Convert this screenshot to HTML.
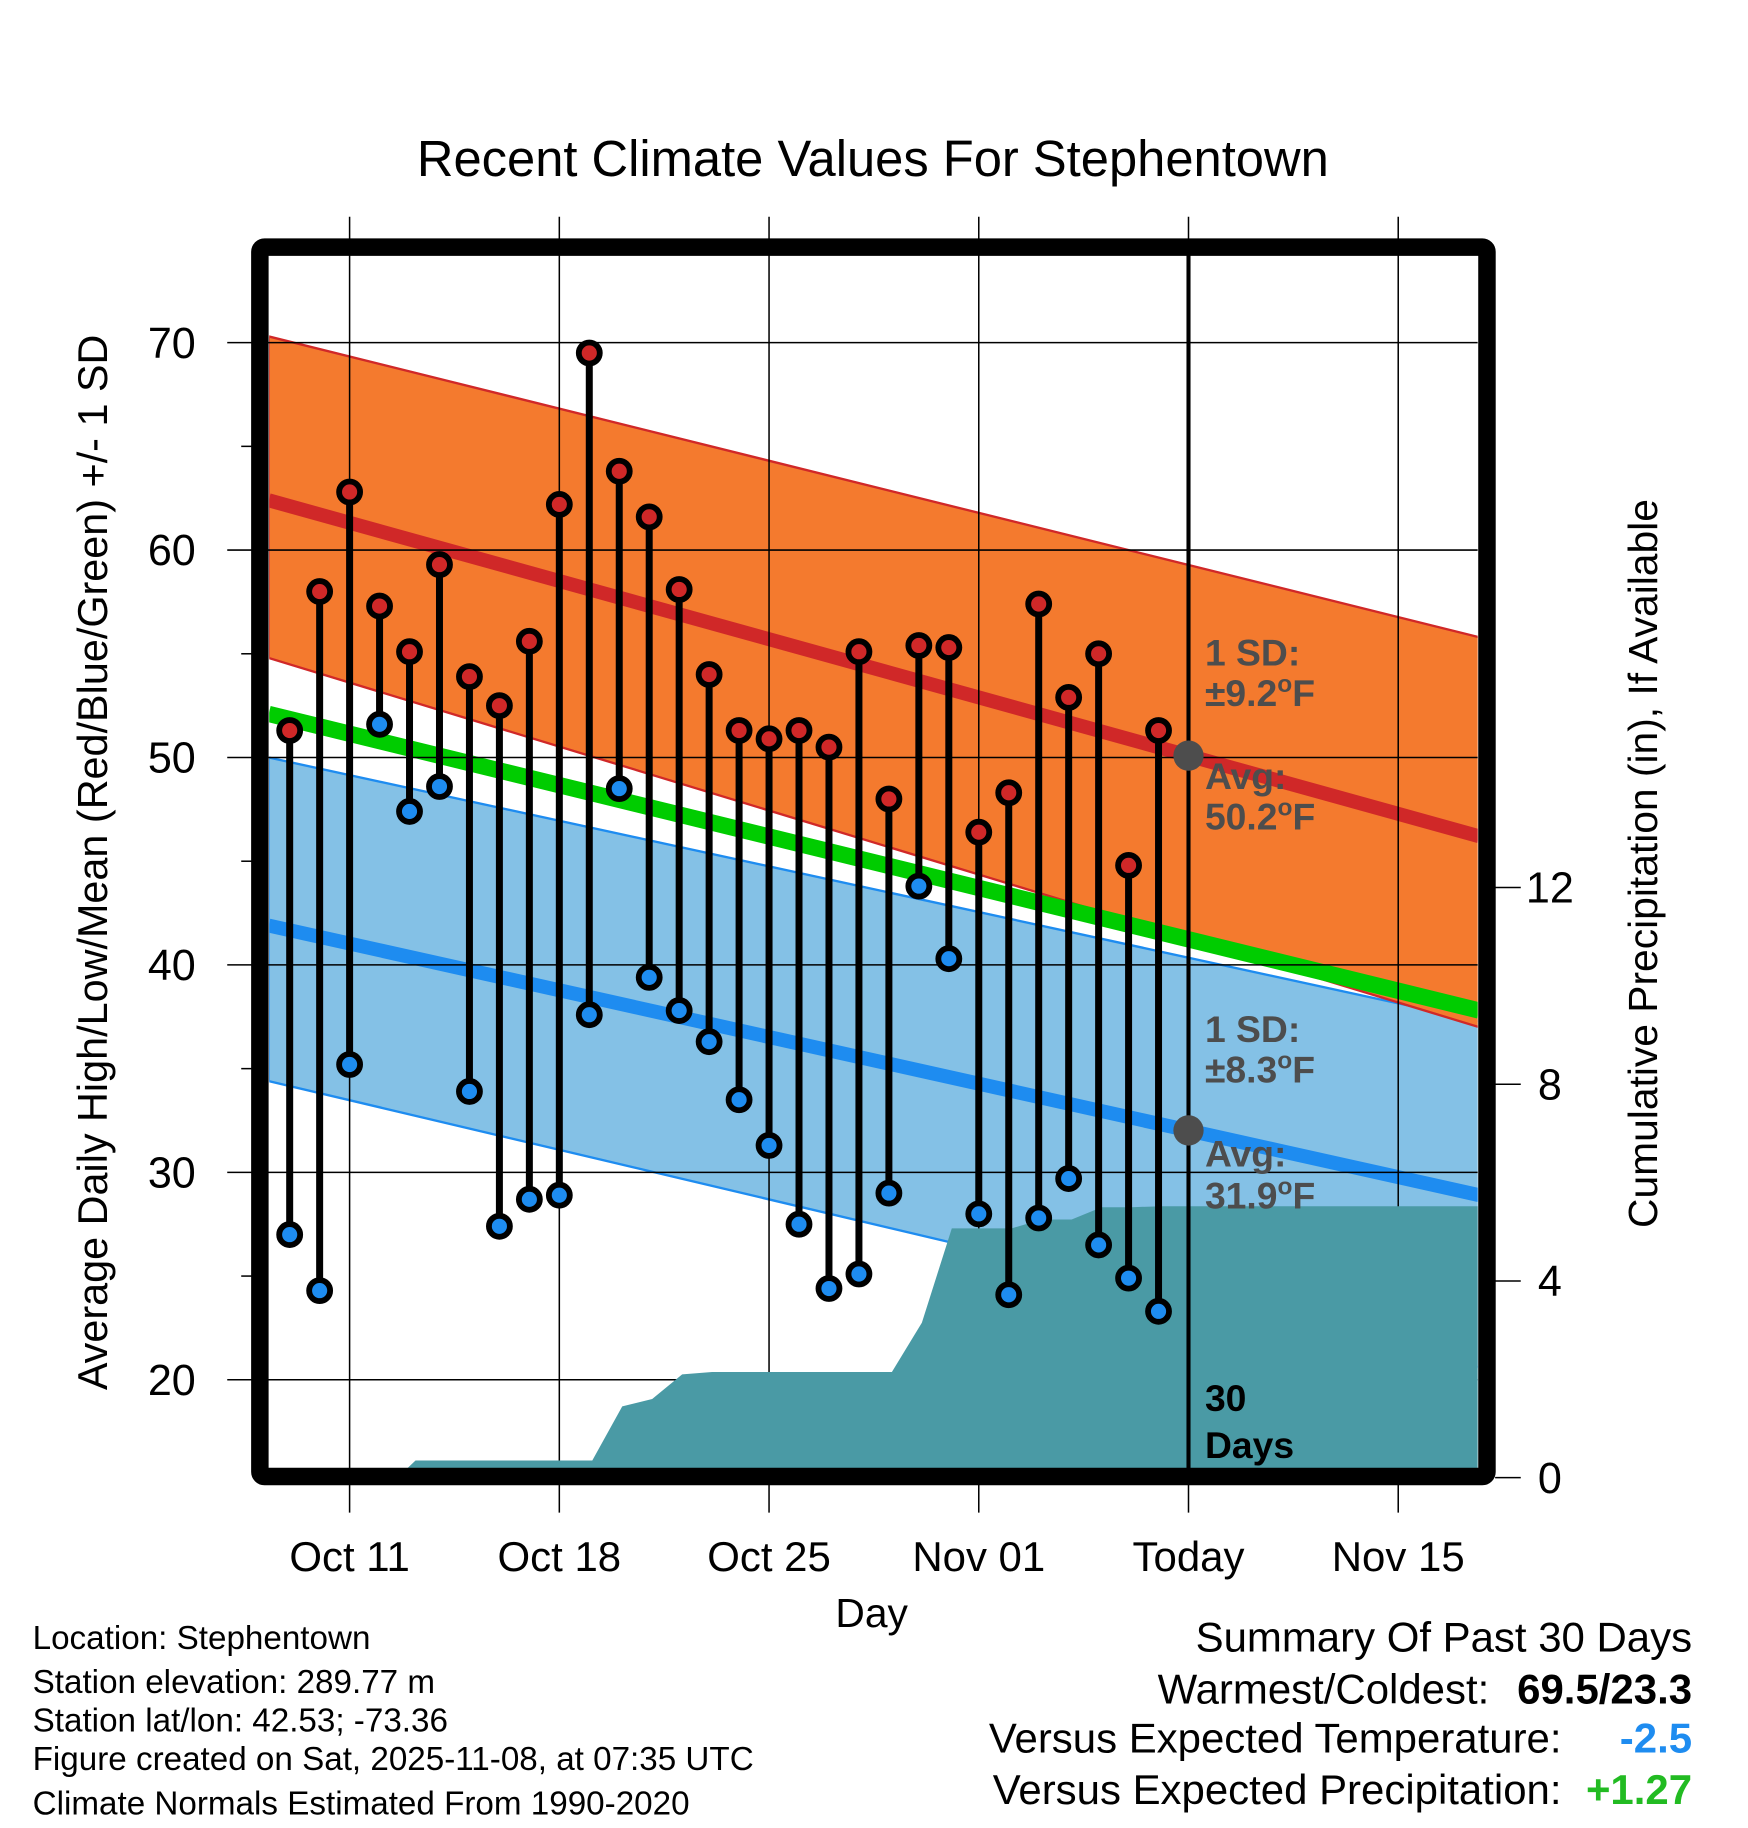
<!DOCTYPE html>
<html><head><meta charset="utf-8"><style>
html,body{margin:0;padding:0;background:#fff}
svg{display:block}
text{font-family:"Liberation Sans",sans-serif}
</style></head><body>
<svg id="chart" width="1748" height="1828" viewBox="0 0 1500 1568.6" xmlns="http://www.w3.org/2000/svg">
<defs><clipPath id="pc"><rect x="231" y="219" width="1037" height="1041"/></clipPath></defs>
<text x="749" y="151" font-size="43.5" text-anchor="middle">Recent Climate Values For Stephentown</text>
<g id="bands" clip-path="url(#pc)"></g>
<g id="grid"></g>
<g id="precip" clip-path="url(#pc)"></g>
<g id="marks"></g>
<g id="labels"></g>
<rect x="223" y="212" width="1053" height="1055" fill="none" stroke="#000" stroke-width="15" rx="4"/>
<text transform="translate(92,740) rotate(-90)" font-size="35.5" text-anchor="middle">Average Daily High/Low/Mean (Red/Blue/Green) +/- 1 SD</text>
<text transform="translate(1422,741) rotate(-90)" font-size="35" text-anchor="middle">Cumulative Precipitation (in), If Available</text>
<text x="748" y="1396" font-size="35" text-anchor="middle">Day</text>
<g font-size="28.5">
<text x="28" y="1415">Location: Stephentown</text>
<text x="28" y="1453">Station elevation: 289.77 m</text>
<text x="28" y="1486">Station lat/lon: 42.53; -73.36</text>
<text x="28" y="1519">Figure created on Sat, 2025-11-08, at 07:35 UTC</text>
<text x="28" y="1557">Climate Normals Estimated From 1990-2020</text>
</g>
<g font-size="36" text-anchor="end">
<text x="1452" y="1417">Summary Of Past 30 Days</text>
<text x="1278" y="1462">Warmest/Coldest:</text>
<text x="1452" y="1462" font-weight="bold">69.5/23.3</text>
<text x="1340" y="1504">Versus Expected Temperature:</text>
<text x="1452" y="1504" font-weight="bold" fill="#1e8cf0">-2.5</text>
<text x="1340" y="1548">Versus Expected Precipitation:</text>
<text x="1452" y="1548" font-weight="bold" fill="#22bb22">+1.27</text>
</g>
</svg>
<script>
const highs=[51.3,58.0,62.8,57.3,55.1,59.3,53.9,52.5,55.6,62.2,69.5,63.8,61.6,58.1,54.0,51.3,50.9,51.3,50.5,55.1,48.0,55.4,55.3,46.4,48.3,57.4,52.9,55.0,44.8,51.3];
const lows=[27.0,24.3,35.2,51.6,47.4,48.6,33.9,27.4,28.7,28.9,37.6,48.5,39.4,37.8,36.3,33.5,31.3,27.5,24.4,25.1,29.0,43.8,40.3,28.0,24.1,27.8,29.7,26.5,24.9,23.3];
const firstDay=-2; // days relative to Oct 11
const normEnds=[-2.7,37.7];
const highUpper=[70.3,55.8];
const highAvg=[62.4,46.2];
const highLower=[54.8,37.0];
const meanAvg=[52.1,37.8];
const lowUpper=[50.0,37.3];
const lowAvg=[41.9,28.9];
const lowLower=[34.4,20.6];
const precipDays=[-2.7,1.6,2.2,8.1,9.1,10.1,11.1,12.1,18.1,19.1,20.1,22.1,23.1,24.1,25.1,26.1,27.1,37.7];
const precipVals=[0,0,0.35,0.35,1.45,1.6,2.1,2.15,2.15,3.15,5.07,5.07,5.25,5.25,5.5,5.5,5.52,5.52];
const yTicks=[20,30,40,50,60,70];
const yMinorTicks=[25,35,45,55,65];
const y2Ticks=[0,4,8,12];
const xTickDays=[0,7,14,21,28,35];
const xTickLabels=["Oct 11","Oct 18","Oct 25","Nov 01","Today","Nov 15"];
const todayDay=28;

const X=d=>300+25.71*d;
const Y=t=>650-(t-50)*17.8;
const Y2=p=>1268-p*42.2;
const NS="http://www.w3.org/2000/svg";
function mk(parent,tag,attrs){const e=document.createElementNS(NS,tag);for(const k in attrs)e.setAttribute(k,attrs[k]);parent.appendChild(e);return e;}
const bands=document.getElementById('bands'),grid=document.getElementById('grid'),precip=document.getElementById('precip'),marks=document.getElementById('marks'),labels=document.getElementById('labels');
function bandPts(up,lo){return `${X(normEnds[0])},${Y(up[0])} ${X(normEnds[1])},${Y(up[1])} ${X(normEnds[1])},${Y(lo[1])} ${X(normEnds[0])},${Y(lo[0])}`;}
let e;
e=mk(bands,'polygon',{points:bandPts(lowUpper,lowLower),fill:'#84c1e6',stroke:'#1e8cf0','stroke-width':2});

e=mk(bands,'polygon',{points:bandPts(highUpper,highLower),fill:'#f47a2e',stroke:'#d02828','stroke-width':2});

function line(arr,col,w,name){const l=mk(bands,'line',{x1:X(normEnds[0]),y1:Y(arr[0]),x2:X(normEnds[1]),y2:Y(arr[1]),stroke:col,'stroke-width':w});

}
line(highAvg,'#d02828',12,'high-normal-line');
line(lowAvg,'#1e8cf0',12,'low-normal-line');
line(meanAvg,'#00cc00',14,'mean-normal-line');
// grid
yTicks.forEach(t=>{const l=mk(grid,'line',{x1:195,x2:1268,y1:Y(t),y2:Y(t),stroke:'#000','stroke-width':1.3});


const tx=mk(grid,'text',{x:168,y:Y(t)+13,'font-size':37,'text-anchor':'end'});tx.textContent=t;

});
yMinorTicks.forEach(t=>{const l=mk(grid,'line',{x1:207,x2:216,y1:Y(t),y2:Y(t),stroke:'#000','stroke-width':1.3});

});
y2Ticks.forEach(p=>{const l=mk(grid,'line',{x1:1283,x2:1305,y1:Y2(p),y2:Y2(p),stroke:'#000','stroke-width':1.3});


const tx=mk(grid,'text',{x:1330,y:Y2(p)+13,'font-size':37,'text-anchor':'middle'});tx.textContent=p;

});
xTickDays.forEach((d,i)=>{const l=mk(grid,'line',{x1:X(d),x2:X(d),y1:186,y2:1298,stroke:'#000','stroke-width':1.3});


const tx=mk(grid,'text',{x:X(d),y:1348,'font-size':36,'text-anchor':'middle'});tx.textContent=xTickLabels[i];

});
// precip
let pts=precipDays.map((d,i)=>`${X(d)},${Y2(precipVals[i])}`).join(' ');
pts+=` ${X(precipDays[precipDays.length-1])},1270 ${X(precipDays[0])},1270`;
e=mk(precip,'polygon',{points:pts,fill:'#4a9aa5'});

// today line
e=mk(marks,'line',{x1:X(todayDay),x2:X(todayDay),y1:219,y2:1262,stroke:'#000','stroke-width':3.5});

// stems and markers
highs.forEach((h,i)=>{const x=X(firstDay+i);
const s=mk(marks,'line',{x1:x,x2:x,y1:Y(h),y2:Y(lows[i]),stroke:'#000','stroke-width':6});


const a=mk(marks,'circle',{cx:x,cy:Y(h),r:9,fill:'#d02828',stroke:'#000','stroke-width':5});


const b=mk(marks,'circle',{cx:x,cy:Y(lows[i]),r:9,fill:'#1e8cf0',stroke:'#000','stroke-width':5});

});
// today normals
const tHigh=highAvg[0]+(highAvg[1]-highAvg[0])*(todayDay-normEnds[0])/(normEnds[1]-normEnds[0]);
const tLow=lowAvg[0]+(lowAvg[1]-lowAvg[0])*(todayDay-normEnds[0])/(normEnds[1]-normEnds[0]);
e=mk(marks,'circle',{cx:X(todayDay),cy:Y(tHigh),r:13,fill:'#4d4d4d'});

e=mk(marks,'circle',{cx:X(todayDay),cy:Y(tLow),r:13,fill:'#4d4d4d'});

function lab(txt,y,col,name){const t=mk(labels,'text',{x:1034,y:y,'font-size':32,'font-weight':'bold',fill:col});t.innerHTML=txt;

}
lab('1 SD:',571,'#4d4d4d','high-sd-label');
lab('±9.2<tspan dy="-12" font-size="21">o</tspan><tspan dy="12">F</tspan>',606,'#4d4d4d','high-sd-value');
lab('Avg:',677,'#4d4d4d','high-avg-label');
lab('50.2<tspan dy="-12" font-size="21">o</tspan><tspan dy="12">F</tspan>',712,'#4d4d4d','high-avg-value');
lab('1 SD:',894,'#4d4d4d','low-sd-label');
lab('±8.3<tspan dy="-12" font-size="21">o</tspan><tspan dy="12">F</tspan>',929,'#4d4d4d','low-sd-value');
lab('Avg:',1001,'#4d4d4d','low-avg-label');
lab('31.9<tspan dy="-12" font-size="21">o</tspan><tspan dy="12">F</tspan>',1037,'#4d4d4d','low-avg-value');
lab('30',1211,'#000','days-count');
lab('Days',1251,'#000','days-label');
</script>
</body></html>
